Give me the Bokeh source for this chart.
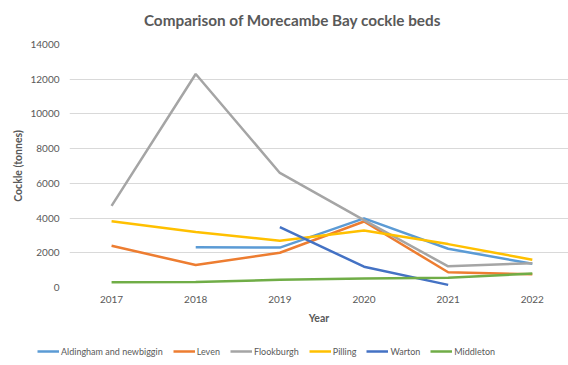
import math
from bokeh.plotting import figure
from bokeh.layouts import column
from bokeh.models import Legend, LegendItem, Label, FixedTicker, Range1d
from bokeh.embed import file_html
from bokeh.resources import INLINE

years = [2017, 2018, 2019, 2020, 2021, 2022]
nan = float("nan")
aldingham = [nan, 2320, 2300, 3980, 2230, 1370]
leven = [2400, 1300, 2000, 3800, 880, 760]
flookburgh = [4700, 12300, 6600, 3880, 1220, 1400]
pilling = [3820, 3200, 2700, 3280, 2500, 1600]
warton = [nan, nan, 3480, 1200, 150, nan]
middleton = [300, 310, 450, 520, 560, 800]

series = [
    ("Aldingham and newbiggin", aldingham, "#5B9BD5"),
    ("Leven", leven, "#ED7D31"),
    ("Flookburgh", flookburgh, "#A5A5A5"),
    ("Pilling", pilling, "#FFC000"),
    ("Warton", warton, "#4472C4"),
    ("Middleton", middleton, "#70AD47"),
]

FONT = "Lato"
GREY = "#595959"


def strip(h):
    f = figure(width=568, height=h, output_backend="svg", toolbar_location=None,
               x_range=Range1d(0, 1), y_range=Range1d(0, 1),
               min_border=0, x_axis_location=None, y_axis_location=None)
    f.outline_line_color = None
    f.xgrid.visible = False
    f.ygrid.visible = False
    return f


# title strip
tt = strip(36)

# main chart
p = figure(width=568, height=297, output_backend="svg", toolbar_location=None,
           x_range=Range1d(2016.5, 2022.43), y_range=Range1d(0, 14000),
           min_border_left=69, min_border_right=0, min_border_top=8, min_border_bottom=46)
p.outline_line_color = None
p.background_fill_color = "white"
p.border_fill_color = "white"

for name, vals, col in series:
    p.line(years, vals, line_color=col, line_width=2.5)

p.xaxis.ticker = FixedTicker(ticks=years)
p.yaxis.ticker = FixedTicker(ticks=list(range(0, 14001, 2000)))
for ax in (p.xaxis[0], p.yaxis[0]):
    ax.axis_line_color = None
    ax.major_tick_line_color = None
    ax.minor_tick_line_color = None
    ax.major_label_text_font = FONT
    ax.major_label_text_font_size = "10px"
    ax.major_label_text_color = GREY
    ax.axis_label_text_font = FONT
    ax.axis_label_text_font_size = "10.5px"
    ax.axis_label_text_font_style = "bold"
    ax.axis_label_text_color = GREY
p.xaxis.axis_label = "Year"
p.yaxis.axis_label = "Cockle (tonnes)"
p.xaxis.major_label_standoff = 2
p.yaxis.major_label_standoff = 4
p.xaxis.axis_label_standoff = 6
p.yaxis.axis_label_standoff = 3

p.xgrid.grid_line_color = None
p.ygrid.grid_line_color = "#D9D9D9"
p.ygrid.grid_line_width = 1

# legend strip (lines drawn out of view; only their legend entries show)
lg = strip(32)

unaligned = False
try:
    tt.frame_align = False
    p.frame_align = False
    lg.frame_align = False
    unaligned = True
except Exception:
    unaligned = False

tt.add_layout(Label(x=292 if unaligned else 223, y=17, x_units="screen", y_units="screen",
                    text="Comparison of Morecambe Bay cockle beds",
                    text_font=FONT, text_font_size="15.3px", text_font_style="bold",
                    text_color=GREY, text_align="center", text_baseline="middle"))

items = []
for name, vals, col in series:
    r = lg.line(years, vals, line_color=col, line_width=2.5)
    items.append(LegendItem(label=name, renderers=[r]))
legend = Legend(items=items, orientation="horizontal",
                location=(37, 4) if unaligned else (0, 4),
                label_text_font=FONT, label_text_font_size="9px", label_text_color=GREY,
                glyph_width=22, label_standoff=2, spacing=10, padding=0, margin=0,
                border_line_color=None, background_fill_alpha=0)
lg.add_layout(legend, "center")

open("out.html", "w").write(file_html(column(tt, p, lg, spacing=0), INLINE))
